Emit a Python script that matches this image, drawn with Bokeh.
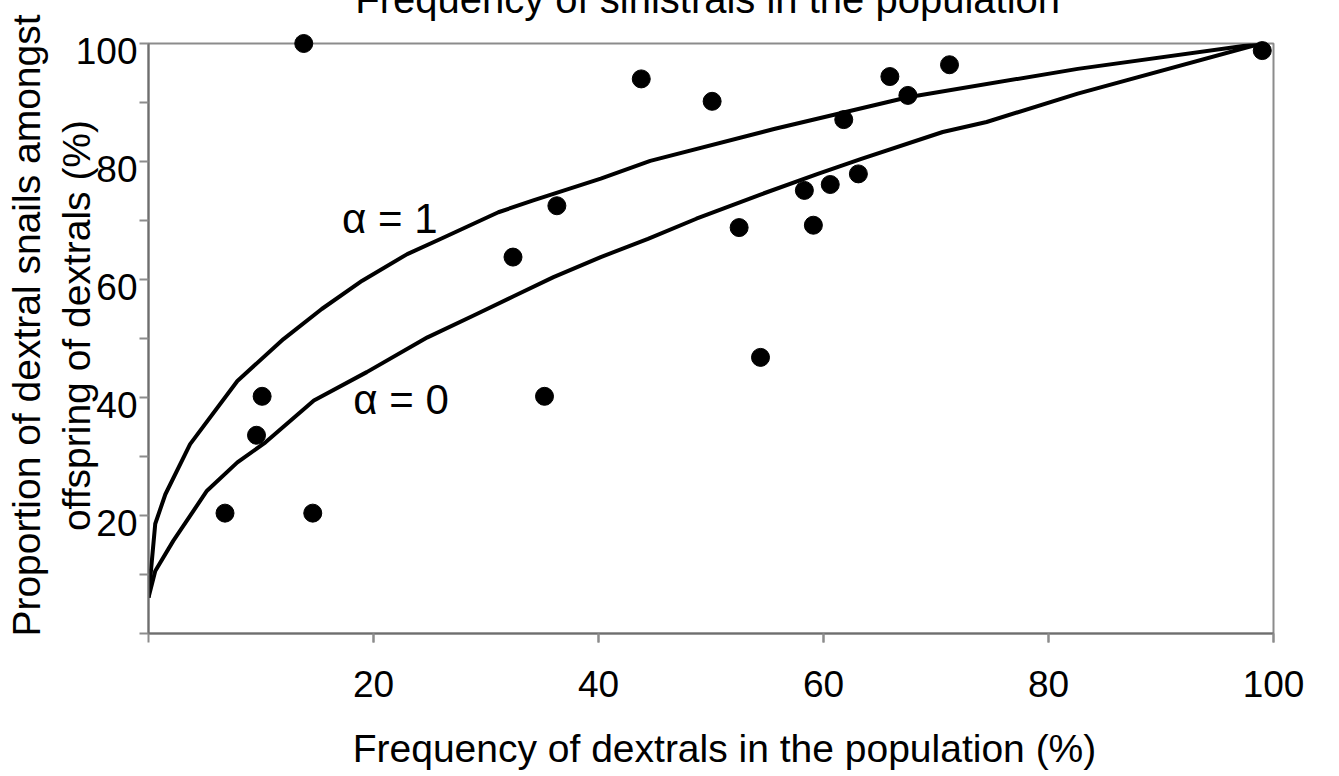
from bokeh.plotting import figure
from bokeh.models import FixedTicker, Range1d
from bokeh.core.properties import value
from bokeh.embed import file_html
from bokeh.resources import INLINE

# ---------------- data ----------------
obs_x = [13.8, 43.8, 50.1, 65.9, 71.2, 67.5, 61.8, 99.0, 63.1, 60.6, 58.3,
         52.5, 59.1, 54.4, 36.3, 32.4, 10.1, 9.6, 6.8, 14.6, 35.2]
obs_y = [100.0, 94.0, 90.2, 94.4, 96.4, 91.2, 87.1, 98.8, 77.9, 76.1, 75.1,
         68.8, 69.2, 46.8, 72.5, 63.8, 40.2, 33.6, 20.4, 20.4, 40.2]

alpha1_x = [0, 0.6, 1.5, 3.7, 7.9, 12.0, 15.4, 19.0, 23.0, 26.0, 31.1, 34.2,
            40.2, 44.6, 55.6, 67.5, 82.6, 98.9]
alpha1_y = [6.1, 18.6, 23.6, 32.1, 42.8, 49.9, 55.0, 59.8, 64.3, 66.9, 71.4, 73.4,
            77.1, 80.1, 85.5, 90.9, 95.7, 100.0]

alpha0_x = [0, 0.6, 2.2, 5.2, 7.9, 10.4, 14.7, 19.4, 24.8, 28.9, 32.5, 36.0,
            40.2, 44.4, 48.7, 54.4, 59.5, 63.3, 70.6, 74.5, 82.6, 98.9]
alpha0_y = [6.1, 10.6, 15.7, 24.2, 29.0, 32.4, 39.5, 44.3, 50.2, 53.9, 57.2, 60.4,
            63.8, 66.9, 70.3, 74.4, 77.9, 80.4, 85.0, 86.7, 91.5, 100.0]

x_ticks = [0, 20, 40, 60, 80, 100]
x_label_vals = [20, 40, 60, 80, 100]
y_ticks = [0, 10, 20, 30, 40, 50, 60, 70, 80, 90, 100]
y_label_vals = [20, 40, 60, 80, 100]
y_label_text = ["20", "40", "60", "80", "100"]

title_text = "Frequency of sinistrals in the population"
x_title = "Frequency of dextrals in the population (%)"
y_title_1 = "Proportion of dextral snails amongst"
y_title_2 = "offspring of dextrals (%)"
curve_labels = ["\u03b1 = 1", "\u03b1 = 0"]

FONT = "Liberation Sans"
BASE_SHIFT = -14  # pixel correction so the alphabetic baseline lands where wanted

# ---------------- figure ----------------
p = figure(width=1339, height=776, x_range=Range1d(0, 100), y_range=Range1d(0, 100),
           output_backend="svg", toolbar_location=None,
           min_border_left=148, min_border_right=66, min_border_top=43, min_border_bottom=143)
p.background_fill_color = "white"
p.border_fill_color = "white"
p.grid.visible = False
p.outline_line_color = "#8c8c8c"
p.outline_line_width = 2

TICK_COLOR = "#8c8c8c"
AXIS_COLOR = "#6e6e6e"

# x axis
xa = p.xaxis[0]
xa.ticker = FixedTicker(ticks=x_label_vals, minor_ticks=x_ticks)
xa.axis_line_color = AXIS_COLOR
xa.axis_line_width = 2
xa.major_tick_line_color = TICK_COLOR
xa.major_tick_line_width = 2
xa.major_tick_out = 9
xa.major_tick_in = 0
xa.minor_tick_line_color = TICK_COLOR
xa.minor_tick_line_width = 2
xa.minor_tick_out = 9
xa.minor_tick_in = 0
xa.major_label_text_font = FONT
xa.major_label_text_font_size = "37px"
xa.major_label_text_color = "black"
xa.major_label_standoff = 28

# y axis: tick marks only, the labels are drawn as text below
ya = p.yaxis[0]
ya.ticker = FixedTicker(ticks=[], minor_ticks=y_ticks)
ya.axis_line_color = AXIS_COLOR
ya.axis_line_width = 2
ya.major_tick_line_color = TICK_COLOR
ya.minor_tick_line_color = TICK_COLOR
ya.minor_tick_line_width = 2
ya.minor_tick_out = 9
ya.minor_tick_in = 0

p.text(x=[0] * len(y_label_vals), y=y_label_vals, text=y_label_text,
       x_offset=-11, y_offset=7, text_align="right", text_baseline="middle",
       text_font=value(FONT), text_font_size="37px", text_color="black", level="overlay")

# curves
p.line(alpha1_x, alpha1_y, line_width=4, line_color="black", line_join="round")
p.line(alpha0_x, alpha0_y, line_width=4, line_color="black", line_join="round")

# observations
p.scatter(obs_x, obs_y, size=18, fill_color="black", line_color="black", level="overlay")

# curve labels
p.text(x=[17.2, 18.2], y=[68.0, 37.3], text=curve_labels, text_align="left",
       y_offset=BASE_SHIFT, text_baseline="alphabetic", text_font=value(FONT),
       text_font_size="42px", text_color="black", level="overlay")

# axis titles
p.text(x=[51.2], y=[-21.9], text=[x_title], text_align="center", y_offset=BASE_SHIFT,
       text_baseline="alphabetic", text_font=value(FONT), text_font_size="39px",
       text_color="black", level="overlay")
p.text(x=[-9.6, -5.2], y=[52.2, 52.2], text=[y_title_1, y_title_2], angle=90,
       angle_units="deg", x_offset=BASE_SHIFT, text_align="center",
       text_baseline="alphabetic", text_font=value(FONT), text_font_size="39px",
       text_color="black", level="overlay")

# top title (cut off at the top edge, as in the source)
p.text(x=[49.7], y=[105.2], text=[title_text], text_align="center", y_offset=BASE_SHIFT,
       text_baseline="alphabetic", text_font=value(FONT), text_font_size="40px",
       text_color="black", level="overlay")

open("out.html", "w").write(file_html(p, INLINE))
